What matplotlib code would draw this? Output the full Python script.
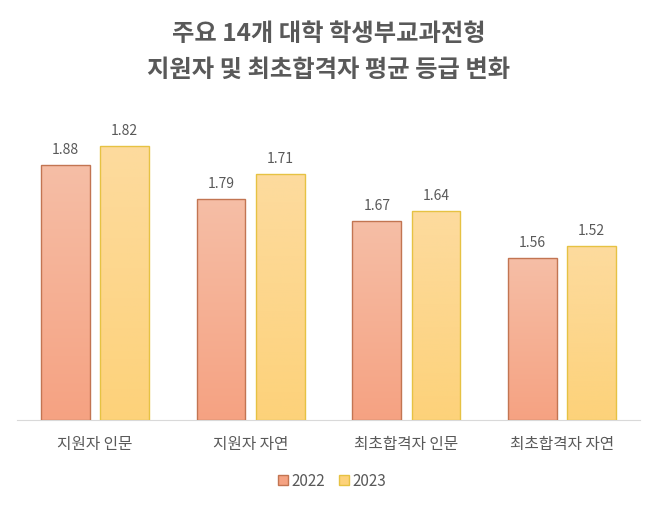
import numpy as np
import matplotlib
matplotlib.use("Agg")
import matplotlib.pyplot as plt
from matplotlib.colors import LinearSegmentedColormap

plt.rcParams['font.family'] = ['Noto Sans CJK KR', 'DejaVu Sans']

# 데이터
categories = ["지원자 인문", "지원자 자연", "최초합격자 인문", "최초합격자 자연"]
years = ["2022", "2023"]
grade_2022 = [1.88, 1.79, 1.67, 1.56]
grade_2023 = [1.82, 1.71, 1.64, 1.52]
# 원본 그래프의 막대 길이 (값과 비례하지 않음, 그림에서 읽은 값)
bar_len_2022 = [255, 221, 199, 162]
bar_len_2023 = [274, 246, 209, 174]

title = "주요 14개 대학 학생부교과전형\n지원자 및 최초합격자 평균 등급 변화"

text_col = "#595959"
styles = {
    "2022": dict(top="#F6BEA6", bottom="#F5A282", edge="#C27552"),
    "2023": dict(top="#FDDB9E", bottom="#FDD27A", edge="#E6C243"),
}

fig = plt.figure(figsize=(6.58, 5.06), dpi=100)
ax = fig.add_axes([17 / 658, (506 - 421) / 506, 623 / 658, 311 / 506])

x = np.arange(len(categories))
width = 0.314
offset = 0.19

for yr, vals, lens, dx in [("2022", grade_2022, bar_len_2022, -offset),
                            ("2023", grade_2023, bar_len_2023, offset)]:
    st = styles[yr]
    cmap = LinearSegmentedColormap.from_list(yr, [st["bottom"], st["top"]])
    bars = ax.bar(x + dx, lens, width, color=st["bottom"], edgecolor=st["edge"],
                  linewidth=1.0, label=yr, zorder=3)
    for b, v in zip(bars, vals):
        x0, y0 = b.get_x(), b.get_y()
        w, h = b.get_width(), b.get_height()
        grad = np.linspace(0, 1, 256).reshape(-1, 1)
        im = ax.imshow(grad, extent=[x0, x0 + w, y0, y0 + h], origin="lower",
                       cmap=cmap, aspect="auto", zorder=2)
        im.set_clip_path(b)
        b.set_facecolor("none")
        ax.text(x0 + w / 2, h + 9, f"{v:.2f}", ha="center", va="bottom",
                fontsize=10, color=text_col)

ax.set_xlim(-0.5, len(categories) - 0.5)
ax.set_ylim(0, 311)
ax.set_yticks([])
for s in ["top", "right", "left"]:
    ax.spines[s].set_visible(False)
ax.spines["bottom"].set_color("#D9D9D9")
ax.set_xticks(x)
ax.set_xticklabels(categories, fontsize=11.3, color=text_col)
ax.tick_params(axis="x", length=0, pad=11)

fig.text(0.5, 1 - 52 / 506, title, ha="center", va="center", fontsize=17.5,
         fontweight="bold", color=text_col, linespacing=1.6)

handles = [plt.Rectangle((0, 0), 1, 1, facecolor=styles[y]["bottom"],
                         edgecolor=styles[y]["edge"]) for y in years]
fig.legend(handles, years, loc="center", bbox_to_anchor=(332 / 658, 1 - 482 / 506),
           ncol=2, frameon=False, fontsize=11, handlelength=0.65, handleheight=0.65,
           handletextpad=0.25, columnspacing=0.9, labelcolor=text_col)

fig.savefig("out.png", dpi=100)
